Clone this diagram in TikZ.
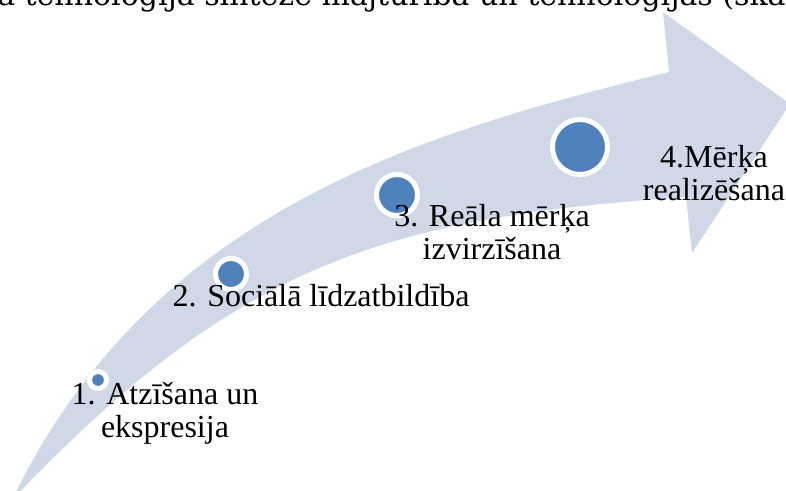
\documentclass[tikz,border=0pt]{standalone}
\usepackage{fontspec}
\setmainfont{Liberation Serif}
\newfontfamily\topfont{DejaVu Serif}
\definecolor{bandfill}{RGB}{208,216,232}
\definecolor{dotblue}{RGB}{79,129,189}
\begin{document}
\begin{tikzpicture}[x=0.75pt,y=-0.75pt,
  band/.style={fill=bandfill},
  dot/.style={circle, fill=dotblue, draw=white, line width=3.75pt, inner sep=0pt},
  lbl/.style={inner sep=0pt, anchor=base, font=\fontsize{24}{24.5}\selectfont},
  toptext/.style={inner sep=0pt, anchor=base west, font=\topfont\fontsize{22.5}{27}\selectfont}]
\useasboundingbox (0,0) rectangle (786,491);
% curved arrow band
\fill[band] (12,500) .. controls (153,208) and (426,132) .. (669,72)
  -- (663,12) -- (790,104) -- (692,253) -- (686,197)
  .. controls (386,218) and (238,262) .. (12,500) -- cycle;
% circles
\node[dot, minimum size=12.75pt] (c1) at (98,380) {};
\node[dot, minimum size=23.25pt] (c2) at (231,274) {};
\node[dot, minimum size=30.75pt] (c3) at (397,195) {};
\node[dot, minimum size=41.25pt] (c4) at (580,147) {};
% labels
\node[lbl] (t1) at (165,405) {\begin{tabular}[t]{@{}c@{}}1. Atzīšana un\\ekspresija\end{tabular}};
\node[lbl] (t2) at (321,307) {2. Sociālā līdzatbildība};
\node[lbl] (t3) at (492,227) {\begin{tabular}[t]{@{}c@{}}3. Reāla mērķa\\izvirzīšana\end{tabular}};
\node[lbl] (t4) at (714,168) {\begin{tabular}[t]{@{}c@{}}4.Mērķa\\realizēšana\end{tabular}};
% cut-off text line above the figure
\node[toptext] (top) at (-3,6) {a tehnoloģija sintēze mājturībā un tehnoloģijās (skat};
\end{tikzpicture}
\end{document}
